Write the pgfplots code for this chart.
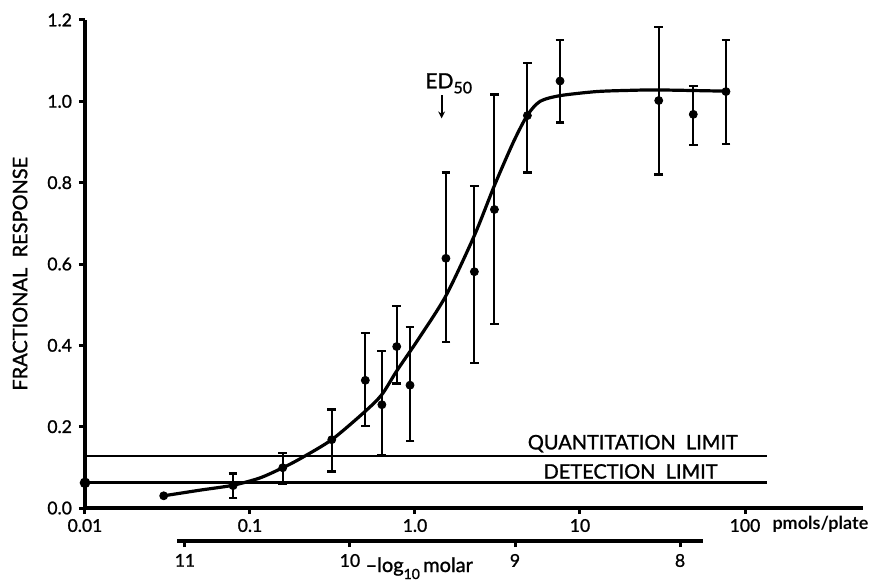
\documentclass[border=0pt]{standalone}
\usepackage{fontspec}
\setmainfont{Lato}[UprightFeatures={FakeBold=1.2}]
\usepackage{pgfplots}
\usepackage{pgfplotstable}
\pgfplotsset{compat=1.18}
\usetikzlibrary{arrows.meta}

% dose (pmols/plate), response, error up, error down
\pgfplotstableread{
x      y      ep     em
0.079  0.055  0.030  0.030
0.158  0.099  0.036  0.040
0.313  0.168  0.074  0.078
0.50   0.314  0.117  0.113
0.63   0.254  0.132  0.123
0.775  0.397  0.099  0.091
0.933  0.302  0.144  0.138
1.54   0.614  0.211  0.206
2.29   0.581  0.211  0.224
3.03   0.734  0.283  0.281
4.80   0.965  0.129  0.140
7.57   1.050  0.100  0.102
30.0   1.002  0.181  0.182
48.6   0.968  0.070  0.076
76.7   1.024  0.127  0.128
}\datatable

\begin{document}
\begin{tikzpicture}[font=\fontsize{10}{12}\selectfont]
\begin{axis}[
    name=main,
    width=389pt, height=244pt, scale only axis,
    xmode=log, xmin=0.01, xmax=519,
    ymin=0, ymax=1.2,
    clip=false,
    axis lines=left,
    axis line style={-, line width=2pt},
    xtick={0.01,0.1,1,10,100},
    xticklabels={0.01,0.1,1.0,10,100},
    ytick={0,0.2,0.4,0.6,0.8,1.0,1.2},
    yticklabels={0.0,0.2,0.4,0.6,0.8,1.0,1.2},
    xminorticks=false,
    tick align=outside,
    major tick length=3pt,
    tick style={line width=1.5pt, black},
    tick label style={font=\fontsize{8.8}{10}\selectfont},
    xticklabel style={yshift=1pt},
    ylabel={FRACTIONAL\ \ RESPONSE},
    every axis y label/.style={at={(axis description cs:-0.0835,0.48)}, rotate=90, anchor=center, font=\fontsize{10}{12}\selectfont},
  ]
  % quantitation and detection limits
  \addplot[line width=1pt, black] coordinates {(0.01,0.128) (136,0.128)};
  \addplot[line width=1.6pt, black, mark=*, mark size=1.8pt, mark indices={1}] coordinates {(0.01,0.062) (136,0.062)};
  \node[anchor=south east, inner sep=1pt, font=\fontsize{10}{12}\selectfont] at (axis cs:93.5,0.131) {QUANTITATION\ \ LIMIT};
  \node[anchor=south east, inner sep=1pt, font=\fontsize{10}{12}\selectfont] at (axis cs:70.5,0.066) {DETECTION\ \ LIMIT};

  % fitted curve
  \addplot[line width=1.6pt, black, smooth, tension=0.45] coordinates {
    (0.030,0.030) (0.050,0.044) (0.079,0.056) (0.115,0.074) (0.158,0.099)
    (0.201,0.121) (0.313,0.168) (0.50,0.238) (0.63,0.279) (0.775,0.337)
    (1.047,0.415) (1.54,0.522) (2.29,0.670) (3.03,0.793) (3.95,0.900)
    (4.80,0.966) (5.73,1.000) (7.57,1.014) (12.6,1.024) (20.1,1.027)
    (30.0,1.028) (76.7,1.025)
  };

  % data with error bars
  \addplot[only marks, mark=*, mark size=2pt, black,
    error bars/.cd, y dir=both, y explicit,
    error bar style={line width=1pt, black},
    error mark options={rotate=90, mark size=2.2pt, line width=1.1pt, black}]
    table[x=x, y=y, y error plus=ep, y error minus=em] {\datatable};
  \addplot[only marks, mark=*, mark size=2pt, black] coordinates {(0.030,0.030)};

  % ED50 marker
  \node[anchor=base west, inner sep=0pt, font=\fontsize{10.5}{12}\selectfont] at (axis cs:1.15,1.032) {ED\raisebox{-2.5pt}{\fontsize{8}{9}\selectfont 50}};
  \draw[-{Stealth[length=3.5pt,width=3.5pt]}, line width=1.1pt] (axis cs:1.45,1.015) -- (axis cs:1.45,0.958);

  \node[anchor=north west, font=\bfseries\fontsize{9}{11}\selectfont, inner sep=0pt] at (axis cs:146,-0.02) {pmols/plate};
\end{axis}

% lower scale: -log10 molar
\begin{axis}[
    at={(46pt,-16.5pt)}, anchor=south west,
    width=263pt, height=1pt, scale only axis,
    xmin=7.861, xmax=11.048, x dir=reverse,
    ymin=0, ymax=1,
    clip=false,
    axis x line=bottom, axis y line=none,
    axis line style={-, line width=2pt},
    xtick={8,9,10,11},
    xticklabels={8,9,10,11},
    tick align=outside,
    major tick length=3pt,
    tick style={line width=1.5pt, black},
    tick label style={font=\fontsize{8.8}{10}\selectfont},
  ]
  \node[anchor=base, font=\fontsize{10}{12}\selectfont] at (axis cs:9.58,0) [yshift=-15.5pt] {\textendash log\raisebox{-3.5pt}{\fontsize{7}{8}\selectfont 10}\,molar};
\end{axis}

\pgfresetboundingbox
\path (main.south west) ++(-42.5pt,-35.5pt) rectangle ++(436.5pt,289.5pt);
\end{tikzpicture}
\end{document}
